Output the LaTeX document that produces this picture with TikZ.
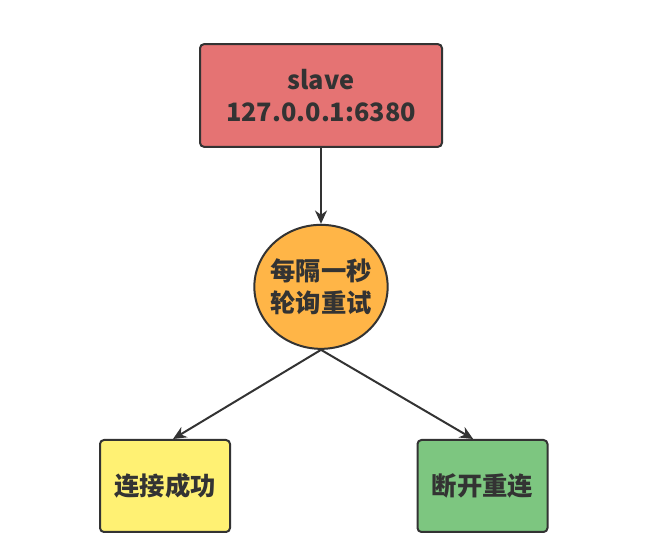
\documentclass[tikz,border=0pt]{standalone}
\usepackage{fontspec}
\setmainfont{Noto Sans CJK SC}
\usepackage{tikz}
\usetikzlibrary{arrows.meta, positioning}
\definecolor{slavered}{RGB}{229, 115, 115}
\definecolor{pollorange}{RGB}{255, 181, 71}
\definecolor{okyellow}{RGB}{255, 241, 115}
\definecolor{retrygreen}{RGB}{125, 198, 128}
\definecolor{inkgray}{RGB}{51, 51, 51}
\tikzset{
  font=\bfseries\fontsize{19}{24}\selectfont,
  baseblock/.style={
    rectangle, rounded corners=3pt, line width=1.5pt,
    draw=inkgray, text=inkgray, inner sep=0pt, align=center
  },
  slavebox/.style={baseblock, fill=slavered, minimum width=181.5pt, minimum height=77pt},
  resultbox/.style={baseblock, minimum width=97.5pt, minimum height=69pt},
  pollcircle/.style={
    ellipse, draw=inkgray, fill=pollorange, text=inkgray, line width=1.5pt,
    minimum width=100pt, minimum height=93pt, inner xsep=-4pt, inner ysep=0pt,
    align=center
  },
  flowline/.style={
    draw=inkgray, -{Stealth[length=10pt, width=9pt]}, line width=1.5pt
  }
}
\usetikzlibrary{shapes.geometric}
\begin{document}
\begin{tikzpicture}[x=0.75pt, y=-0.75pt]
  \useasboundingbox (0,0) rectangle (669,552);

  \node[slavebox] (slave) at (321,95.5) {slave\\127.0.0.1:6380};

  \node[pollcircle, below=57pt of slave] (poll) {每隔一秒\\轮询重试};

  \node[resultbox, fill=okyellow] (success) at (165,486) {连接成功};
  \node[resultbox, fill=retrygreen] (reconnect) at (482.5,486) {断开重连};

  \draw[flowline] (slave) -- (poll);
  \draw[flowline] (poll.south) -- ([xshift=6pt]success.north);
  \draw[flowline] (poll.south) -- ([xshift=-7pt]reconnect.north);
\end{tikzpicture}
\end{document}
